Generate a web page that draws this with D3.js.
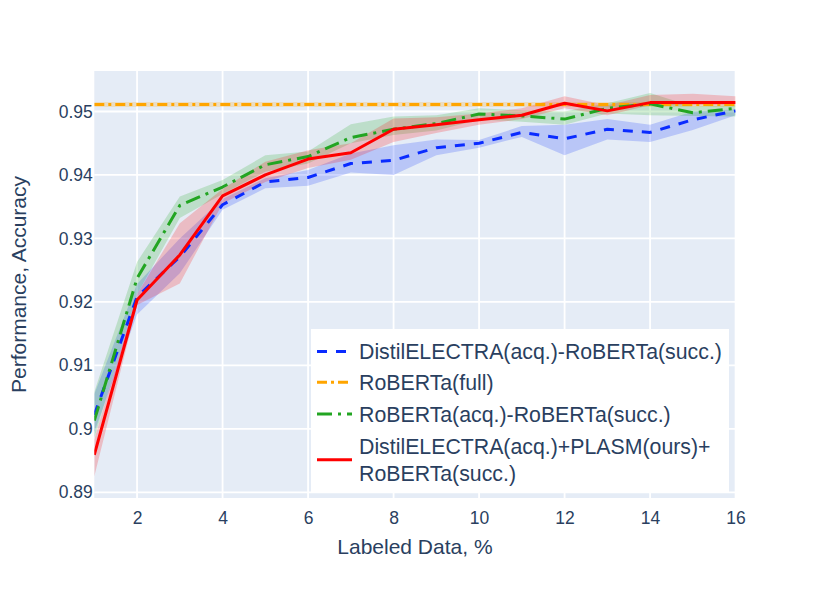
<!DOCTYPE html>
<html>
<head>
<meta charset="utf-8">
<script src="https://cdn.jsdelivr.net/npm/d3@7"></script>
<style>
  body { margin: 0; background: #fff; }
  text { font-family: "Liberation Sans", Arial, sans-serif; fill: #2a3f5f; }
</style>
</head>
<body>
<div id="chart"></div>
<script>
// labeled data, %
const labeled = [1, 2, 3, 4, 5, 6, 7, 8, 9, 10, 11, 12, 13, 14, 15, 16]

// DistilELECTRA(acq.)-RoBERTa(succ.)
const blueMean = [0.9022, 0.9208, 0.9271, 0.9353, 0.9389, 0.9396, 0.9418, 0.9423, 0.9443, 0.9450, 0.9467, 0.9457, 0.9472, 0.9467, 0.9487, 0.9501]
const blueLow  = [0.8995, 0.9180, 0.9245, 0.9345, 0.9379, 0.9383, 0.9404, 0.9400, 0.9431, 0.9443, 0.9460, 0.9431, 0.9456, 0.9452, 0.9471, 0.9494]
const blueHigh = [0.9055, 0.9228, 0.9300, 0.9362, 0.9395, 0.9408, 0.9434, 0.9447, 0.9456, 0.9455, 0.9477, 0.9479, 0.9488, 0.9479, 0.9500, 0.9503]

// RoBERTa(full) - constant reference
const fullX    = [1, 16]
const fullMean = [0.9511, 0.9511]
const fullLow  = [0.9507, 0.9507]
const fullHigh = [0.9515, 0.9515]

// RoBERTa(acq.)-RoBERTa(succ.)
const greenMean = [0.9013, 0.9237, 0.9352, 0.9381, 0.9416, 0.9429, 0.9459, 0.9472, 0.9481, 0.9496, 0.9493, 0.9488, 0.9505, 0.9512, 0.9498, 0.9505]
const greenLow  = [0.8985, 0.9212, 0.9332, 0.9370, 0.9405, 0.9418, 0.9450, 0.9463, 0.9470, 0.9487, 0.9484, 0.9479, 0.9497, 0.9494, 0.9493, 0.9492]
const greenHigh = [0.9058, 0.9263, 0.9366, 0.9392, 0.9431, 0.9437, 0.9480, 0.9492, 0.9494, 0.9505, 0.9502, 0.9500, 0.9513, 0.9529, 0.9508, 0.9510]

// DistilELECTRA(acq.)+PLASM(ours)+RoBERTa(succ.)
const redMean = [0.8959, 0.9203, 0.9274, 0.9367, 0.9400, 0.9425, 0.9435, 0.9472, 0.9479, 0.9487, 0.9494, 0.9513, 0.9501, 0.9514, 0.9514, 0.9514]
const redLow  = [0.8925, 0.9195, 0.9229, 0.9355, 0.9389, 0.9411, 0.9424, 0.9452, 0.9466, 0.9479, 0.9488, 0.9505, 0.9494, 0.9510, 0.9510, 0.9510]
const redHigh = [0.8983, 0.9212, 0.9324, 0.9378, 0.9421, 0.9439, 0.9450, 0.9489, 0.9491, 0.9497, 0.9505, 0.9524, 0.9510, 0.9526, 0.9528, 0.9524]

const xTicks = [2, 4, 6, 8, 10, 12, 14, 16]
const yTicks = [0.89, 0.9, 0.91, 0.92, 0.93, 0.94, 0.95]

const W = 831, H = 593
const MARGIN = { TOP: 71, BOTTOM: 95, LEFT: 94.3, RIGHT: 95.4 }
const WIDTH = W - MARGIN.LEFT - MARGIN.RIGHT
const HEIGHT = H - MARGIN.TOP - MARGIN.BOTTOM

const series = [
    { name: "DistilELECTRA(acq.)-RoBERTa(succ.)", x: labeled, mean: blueMean, low: blueLow, high: blueHigh,
      color: "#0a2bff", fill: "rgba(10,50,255,0.2)", dash: "10,9" },
    { name: "RoBERTa(full)", x: fullX, mean: fullMean, low: fullLow, high: fullHigh,
      color: "#ffa500", fill: "rgba(255,165,0,0.2)", dash: "10,4,3,4" },
    { name: "RoBERTa(acq.)-RoBERTa(succ.)", x: labeled, mean: greenMean, low: greenLow, high: greenHigh,
      color: "#22a522", fill: "rgba(30,170,30,0.2)", dash: "15,6,3,6" },
    { name: ["DistilELECTRA(acq.)+PLASM(ours)+", "RoBERTa(succ.)"], x: labeled, mean: redMean, low: redLow, high: redHigh,
      color: "#ff0000", fill: "rgba(255,0,0,0.2)", dash: null }
]

const svg = d3.select("#chart").append("svg")
    .attr("width", W)
    .attr("height", H)

const g = svg.append("g")
    .attr("transform", `translate(${MARGIN.LEFT}, ${MARGIN.TOP})`)

g.append("rect")
    .attr("width", WIDTH)
    .attr("height", HEIGHT)
    .attr("fill", "#e5ecf6")

g.append("clipPath").attr("id", "plot-clip")
    .append("rect").attr("width", WIDTH).attr("height", HEIGHT)

const x = d3.scaleLinear().domain([1, 16]).range([0, WIDTH])
const y = d3.scaleLinear().domain([0.8891, 0.95638]).range([HEIGHT, 0])

// grid
g.append("g").selectAll("line").data(xTicks).join("line")
    .attr("x1", d => x(d)).attr("x2", d => x(d))
    .attr("y1", 0).attr("y2", HEIGHT)
    .attr("stroke", "#fff").attr("stroke-width", 1.8)
g.append("g").selectAll("line").data(yTicks).join("line")
    .attr("x1", 0).attr("x2", WIDTH)
    .attr("y1", d => y(d)).attr("y2", d => y(d))
    .attr("stroke", "#fff").attr("stroke-width", 1.8)

// axes (labels only, plotly style)
const xAxis = g.append("g")
    .attr("transform", `translate(0,${HEIGHT})`)
    .call(d3.axisBottom(x).tickValues(xTicks).tickSize(0).tickPadding(14).tickFormat(d3.format("d")))
const yAxis = g.append("g")
    .call(d3.axisLeft(y).tickValues(yTicks).tickSize(0).tickPadding(1.5).tickFormat(d => String(+d.toFixed(2))))
;[xAxis, yAxis].forEach(a => {
    a.select(".domain").remove()
    a.selectAll("text").attr("font-size", 17.5).attr("fill", "#2a3f5f")
        .attr("font-family", "Liberation Sans, Arial, sans-serif")
})

// bands then lines
const plot = g.append("g").attr("clip-path", "url(#plot-clip)")

series.forEach(s => {
    const idx = d3.range(s.x.length)
    const area = d3.area()
        .x(i => x(s.x[i]))
        .y0(i => y(s.low[i]))
        .y1(i => y(s.high[i]))
    plot.append("path")
        .attr("d", area(idx))
        .attr("fill", s.fill)
        .attr("stroke", "none")
    const line = d3.line()
        .x(i => x(s.x[i]))
        .y(i => y(s.mean[i]))
    s.linePath = line(idx)
})
series.forEach(s => {
    plot.append("path")
        .attr("d", s.linePath)
        .attr("fill", "none")
        .attr("stroke", s.color)
        .attr("stroke-width", 3)
        .attr("stroke-dasharray", s.dash)
        .attr("stroke-linejoin", "round")
})

// axis titles
svg.append("text")
    .attr("x", MARGIN.LEFT + WIDTH / 2)
    .attr("y", 554)
    .attr("text-anchor", "middle")
    .attr("font-size", 21)
    .text("Labeled Data, %")

svg.append("text")
    .attr("transform", `translate(26, ${MARGIN.TOP + HEIGHT / 2}) rotate(-90)`)
    .attr("text-anchor", "middle")
    .attr("font-size", 21)
    .text("Performance, Accuracy")

// legend
const legend = svg.append("g")
legend.append("rect")
    .attr("x", 311).attr("y", 329)
    .attr("width", 418).attr("height", 164)
    .attr("fill", "#fff")

const rowY = [351.5, 382.3, 414, 446]
series.forEach((s, i) => {
    const lines = Array.isArray(s.name) ? s.name : [s.name]
    const cy = rowY[i] + (lines.length - 1) * 13.7
    legend.append("line")
        .attr("x1", 317).attr("x2", 352)
        .attr("y1", cy).attr("y2", cy)
        .attr("stroke", s.color)
        .attr("stroke-width", 3)
        .attr("stroke-dasharray", s.dash)
    lines.forEach((t, j) => {
        legend.append("text")
            .attr("x", 359)
            .attr("y", rowY[i] + j * 27.4 + 7.6)
            .attr("font-size", 21.3)
            .text(t)
    })
})
</script>
</body>
</html>
